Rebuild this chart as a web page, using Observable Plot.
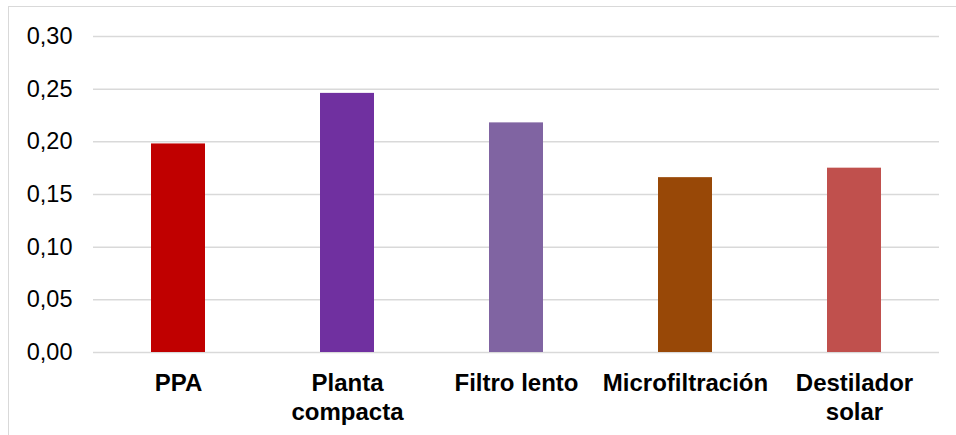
<!DOCTYPE html>
<html>
<head>
<meta charset="utf-8">
<script src="https://cdn.jsdelivr.net/npm/d3@7"></script>
<script src="https://cdn.jsdelivr.net/npm/@observablehq/plot@0.6"></script>
<style>
  html, body { margin: 0; padding: 0; background: #fff; }
  #wrap { position: relative; width: 956px; height: 435px; overflow: hidden; }
  #frame {
    position: absolute; left: 8px; top: 6px; width: 980px; height: 460px;
    border-top: 1.5px solid #d9d9d9; border-left: 1.5px solid #d9d9d9;
    box-sizing: border-box;
  }
  #chart { position: absolute; left: 0; top: 0; }
</style>
</head>
<body>
<div id="wrap">
  <div id="frame"></div>
  <div id="chart"></div>
</div>
<script>
// Categories, their axis labels (with line breaks) and bar values
const categories = ["PPA", "Planta compacta", "Filtro lento", "Microfiltración", "Destilador solar"];
const categoryLabels = ["PPA", "Planta\ncompacta", "Filtro lento", "Microfiltración", "Destilador\nsolar"];
const values = [0.198, 0.246, 0.218, 0.166, 0.175];
const barColors = ["#C00000", "#7030A0", "#8064A2", "#984807", "#C0504D"];
const yTicks = [0, 0.05, 0.10, 0.15, 0.20, 0.25, 0.30];

const rows = categories.map((c, i) => ({ categoria: c, valor: values[i], color: barColors[i] }));
const labelOf = new Map(categories.map((c, i) => [c, categoryLabels[i]]));
const fmt = d => d.toFixed(2).replace(".", ",");

const chart = Plot.plot({
  width: 956,
  height: 435,
  marginLeft: 93,
  marginRight: 17,
  marginTop: 36,
  marginBottom: 83,
  style: { fontFamily: "'Liberation Sans', Arial, sans-serif", background: "transparent", color: "#000" },
  x: { domain: categories, paddingInner: 0.68, paddingOuter: 0.34, label: null },
  y: { domain: [0, 0.30], label: null },
  marks: [
    Plot.gridY(yTicks, { stroke: "#d9d9d9", strokeOpacity: 1, strokeWidth: 1.5 }),
    Plot.barY(rows, { x: "categoria", y: "valor", fill: "color" }),
    Plot.axisY({
      ticks: yTicks, tickSize: 0, tickPadding: 21, tickFormat: fmt,
      fontSize: 23.5, fill: "#000", label: null
    }),
    Plot.axisX({
      tickSize: 0, tickPadding: 19, tickFormat: d => labelOf.get(d),
      fontSize: 24, fontWeight: "bold", fill: "#000", lineHeight: 1.17, label: null
    })
  ]
});
document.getElementById("chart").appendChild(chart);
</script>
</body>
</html>
